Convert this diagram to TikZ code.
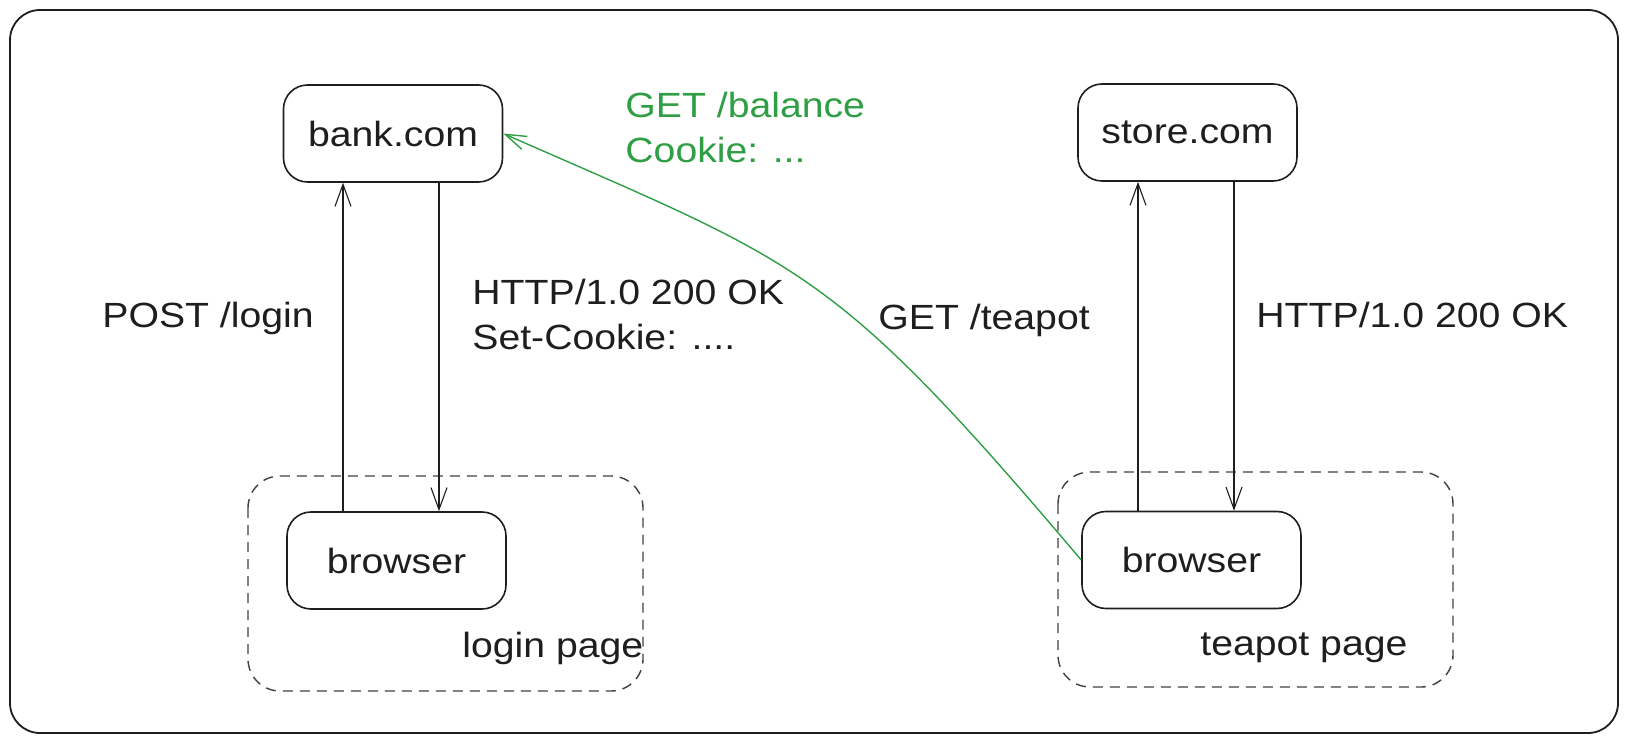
\documentclass[tikz,border=0pt]{standalone}
\usepackage{fontspec}
\setmainfont{Liberation Sans}[FakeStretch=1.12]
\usetikzlibrary{arrows.meta}
\definecolor{ink}{HTML}{1E1E1E}
\definecolor{exgreen}{HTML}{2F9E44}
\begin{document}
\begin{tikzpicture}[x=0.5pt,y=-0.5pt,
  every node/.style={text=ink,font=\fontsize{17.5}{22.5}\selectfont},
  srvbox/.style={draw=ink,line width=0.8pt,rounded corners=12pt,minimum width=109.5pt,minimum height=48.5pt,inner sep=0pt},
  pagebox/.style={draw=ink!85,line width=0.7pt,dash pattern=on 5pt off 3.5pt,rounded corners=16pt},
  lbl/.style={anchor=base west,inner sep=0pt,align=left},
  arr/.style={draw=ink,line width=0.55pt,-{Straight Barb[length=11pt,width=8pt]}},
  garr/.style={draw=exgreen,line width=0.7pt,-{Straight Barb[length=10.5pt,width=7pt]}}
]
\useasboundingbox (0,0) rectangle (1629,743);
\draw[ink,line width=0.9pt,rounded corners=15pt] (10,10) rectangle (1618,733);

% dashed page frames
\draw[pagebox] (248,476) rectangle (643,691);
\draw[pagebox] (1058,472) rectangle (1453,687);

% boxes
\node[srvbox] (bank) at (393,133.5) {bank.com};
\node[srvbox] (store) at (1187.5,132.5) {store.com};
\node[srvbox] (bl) at (396.5,560.5) {browser};
\node[srvbox] (br) at (1191.5,560) {browser};

% page labels
\node[lbl] (lp) at (462,657) {login page};
\node[lbl] (tp) at (1200,655) {teapot page};

% vertical arrows
\coordinate (lu) at (343,0);
\coordinate (ld) at (439,0);
\coordinate (ru) at (1138,0);
\coordinate (rd) at (1234,0);
\draw[arr] (bl.north -| lu) -- (bank.south -| lu);
\draw[arr] (bank.south -| ld) -- (bl.north -| ld);
\draw[arr] (br.north -| ru) -- (store.south -| ru);
\draw[arr] (store.south -| rd) -- (br.north -| rd);

% green request
\draw[garr] (br.west) .. controls (830,263) and (802,265) .. (bank.east);

% labels (multi-line nodes: base = last line)
\node[lbl] (post) at (102,328) {POST /login};
\node[lbl] (resp1) at (472,350) {HTTP/1.0 200 OK\\Set-Cookie: ....};
\node[lbl,text=exgreen] (bal) at (625,163) {GET /balance\\Cookie: ...};
\node[lbl] (tea) at (878,330) {GET /teapot};
\node[lbl] (resp2) at (1256,328) {HTTP/1.0 200 OK};
\end{tikzpicture}
\end{document}
